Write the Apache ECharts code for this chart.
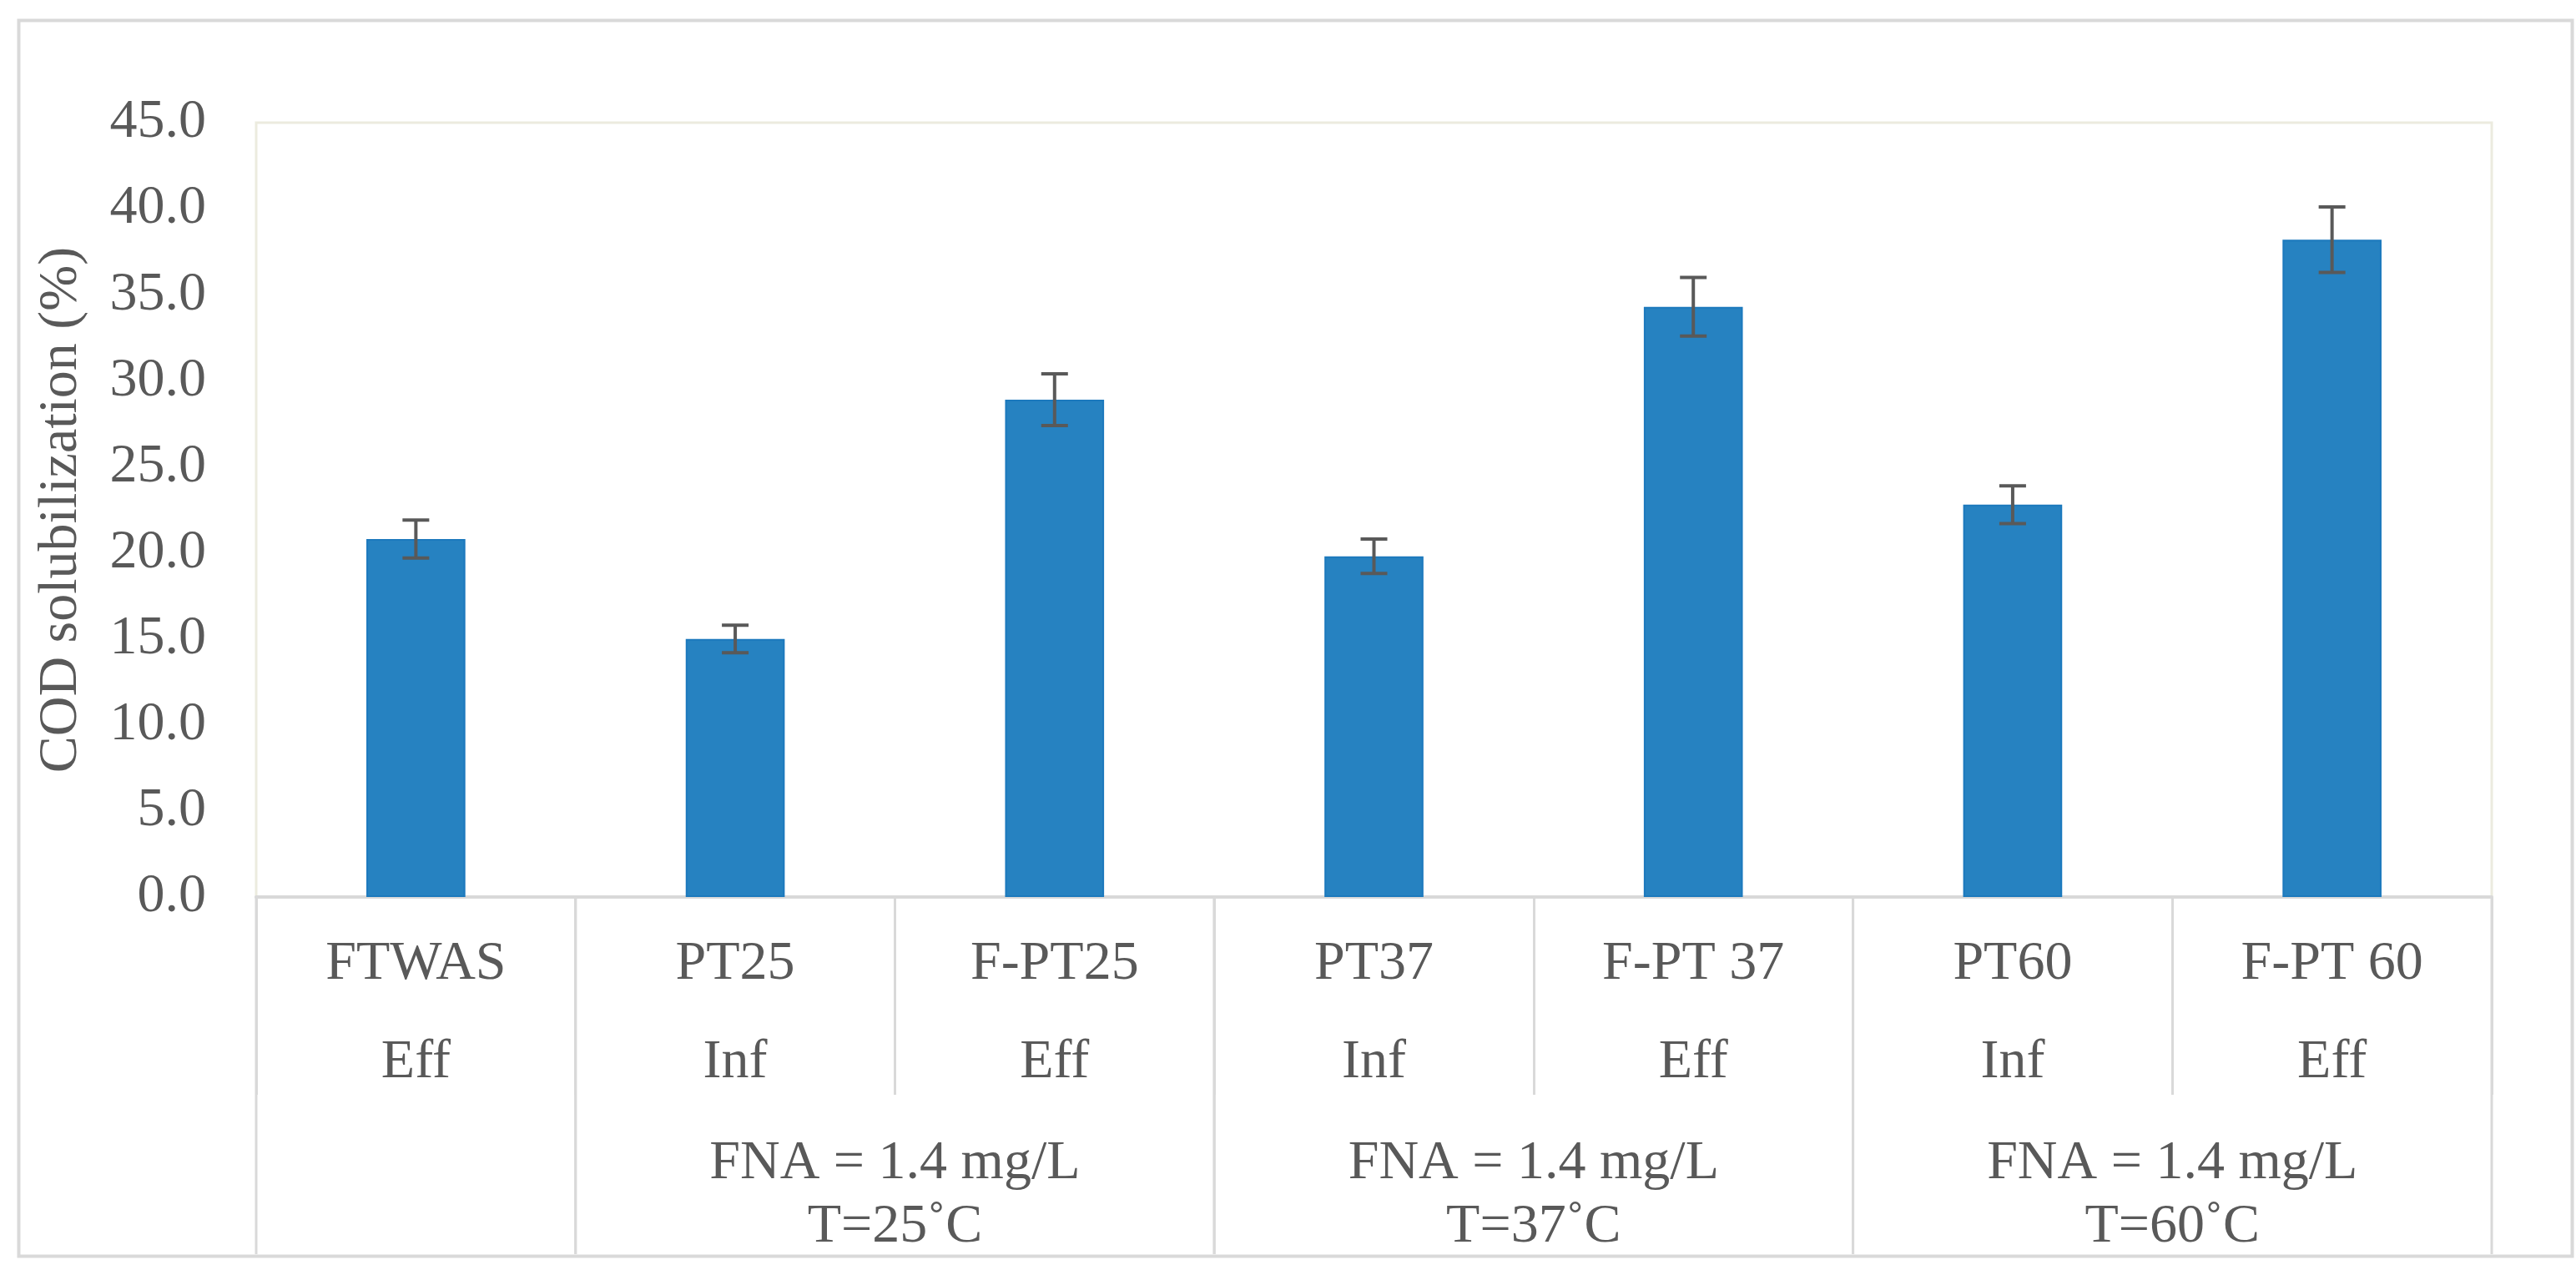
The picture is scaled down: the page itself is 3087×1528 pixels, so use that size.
<!DOCTYPE html>
<html>
<head>
<meta charset="utf-8">
<script src="https://cdn.jsdelivr.net/npm/echarts@6/dist/echarts.min.js"></script>
<style>
  html, body { margin: 0; padding: 0; background: #ffffff; }
  #chart { width: 3087px; height: 1528px; }
</style>
</head>
<body>
<div id="chart"></div>
<script>
// ---- data ----
const categories = ['FTWAS', 'PT25', 'F-PT25', 'PT37', 'F-PT 37', 'PT60', 'F-PT 60'];
const streamTypes = ['Eff', 'Inf', 'Eff', 'Inf', 'Eff', 'Inf', 'Eff'];
const codValues = [20.8, 15.0, 28.9, 19.8, 34.3, 22.8, 38.2];
const codErrors = [1.1, 0.8, 1.5, 1.0, 1.7, 1.1, 1.9];
const groupLabels = ['', 'FNA = 1.4 mg/L\nT=25˚C', 'FNA = 1.4 mg/L\nT=37˚C', 'FNA = 1.4 mg/L\nT=60˚C'];
const groupStart = [0, 1, 3, 5];
const groupEnd = [0, 2, 4, 6];
const yMin = 0, yMax = 45, yInterval = 5;
const yTitle = 'COD solubilization (%)';

// ---- styles ----
const FONT = "'Liberation Serif', 'Times New Roman', serif";
const TEXT = '#595959';
const LINE = '#d9d9d9';

const chart = echarts.init(document.getElementById('chart'), null, { renderer: 'canvas' });

const option = {
  backgroundColor: '#ffffff',
  animation: false,
  graphic: [{
    type: 'rect',
    left: 20, top: 22,
    shape: { width: 3060, height: 1481 },
    style: { fill: 'none', stroke: LINE, lineWidth: 4 },
    silent: true, z: 0
  }],
  grid: {
    left: 307, right: 101, top: 147, bottom: 453,
    show: true, borderColor: '#ecebdf', borderWidth: 3, backgroundColor: 'transparent'
  },
  xAxis: {
    type: 'category',
    data: categories,
    boundaryGap: true,
    axisLine: { show: true, lineStyle: { color: LINE, width: 4 } },
    axisTick: { show: true, interval: 0, length: 237, lineStyle: { color: LINE, width: 3 } },
    axisLabel: {
      interval: 0,
      margin: 22,
      fontFamily: FONT, fontSize: 66, color: TEXT, lineHeight: 118,
      formatter: (v, i) => v + '\n' + streamTypes[i]
    },
    splitLine: { show: false }
  },
  yAxis: {
    type: 'value',
    min: yMin, max: yMax, interval: yInterval,
    name: yTitle,
    nameLocation: 'middle',
    nameRotate: 90,
    nameGap: 200,
    nameTextStyle: { fontFamily: FONT, fontSize: 66, color: TEXT },
    axisLine: { show: false },
    axisTick: { show: false },
    splitLine: { show: false },
    axisLabel: {
      margin: 60,
      fontFamily: FONT, fontSize: 66, color: TEXT,
      formatter: v => v.toFixed(1)
    }
  },
  series: [
    {
      type: 'bar',
      data: codValues,
      barWidth: '31%',
      itemStyle: { color: '#2682c1', borderColor: '#1c79bd', borderWidth: 2 },
      z: 2
    },
    {
      type: 'custom',
      data: codValues.map((v, i) => [i, v, codErrors[i]]),
      clip: false,
      z: 5,
      renderItem: (params, api) => {
        const i = api.value(0), v = api.value(1), e = api.value(2);
        const top = api.coord([i, v + e]);
        const bot = api.coord([i, v - e]);
        const hw = 16;
        const st = { stroke: '#595959', lineWidth: 4 };
        return {
          type: 'group',
          children: [
            { type: 'line', shape: { x1: top[0], y1: top[1], x2: bot[0], y2: bot[1] }, style: st },
            { type: 'line', shape: { x1: top[0] - hw, y1: top[1], x2: top[0] + hw, y2: top[1] }, style: st },
            { type: 'line', shape: { x1: bot[0] - hw, y1: bot[1], x2: bot[0] + hw, y2: bot[1] }, style: st }
          ]
        };
      }
    },
    {
      type: 'custom',
      data: groupStart.map((s, i) => [s, groupEnd[i], i]),
      clip: false,
      silent: true,
      z: 3,
      renderItem: (params, api) => {
        const s = api.value(0), e = api.value(1), gi = api.value(2);
        const band = api.size([1, 0])[0];
        const left = api.coord([s, 0])[0] - band / 2;
        const right = api.coord([e, 0])[0] + band / 2;
        const axisY = api.coord([s, 0])[1];
        const bottomY = axisY + 428;
        const st = { stroke: LINE, lineWidth: 3 };
        return {
          type: 'group',
          children: [
            { type: 'line', shape: { x1: left, y1: axisY, x2: left, y2: bottomY }, style: st },
            { type: 'line', shape: { x1: right, y1: axisY, x2: right, y2: bottomY }, style: st },
            {
              type: 'text',
              style: {
                x: (left + right) / 2, y: axisY + 358,
                text: groupLabels[gi],
                fontFamily: FONT, fontSize: 66, fill: TEXT,
                lineHeight: 76,
                align: 'center', verticalAlign: 'middle'
              }
            }
          ]
        };
      }
    }
  ]
};

chart.setOption(option);
</script>
</body>
</html>
